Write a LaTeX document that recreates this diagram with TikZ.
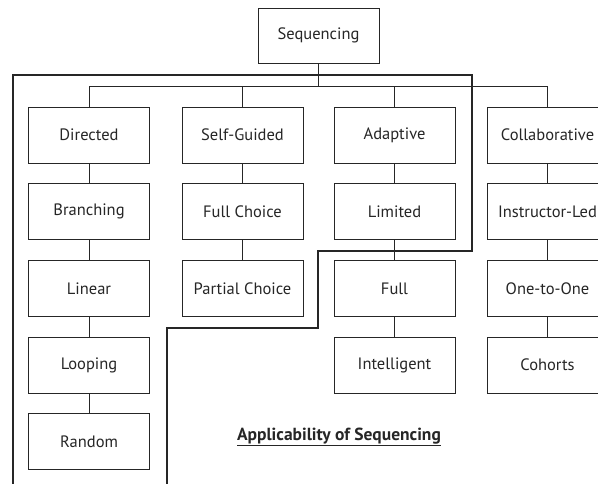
\documentclass[tikz,border=0pt]{standalone}
\usepackage{fontspec}
\setmainfont{PT Sans}
\begin{document}
\begin{tikzpicture}[x=1pt,y=-1pt,
  box/.style={draw=black!85,line width=1pt,minimum width=121pt,minimum height=56pt,inner sep=0pt,font=\fontsize{16.5}{18}\selectfont,text=black!85},
  link/.style={draw=black!85,line width=1pt},
  frame/.style={draw=black!85,line width=2.6pt}]
\clip (0,0) rectangle (598,483);
\fill[white] (0,0) rectangle (598,483);
\node[box,minimum height=55pt] (seq) at (318.5,35.5) {Sequencing};
% columns
\foreach \n/\t/\x/\y in {
  d1/Directed/89/135, d2/Branching/89/211.5, d3/Linear/89/288.5, d4/Looping/89/365, d5/Random/89/441.5,
  s1/Self-Guided/242.5/135, s2/Full Choice/242.5/211.5, s3/Partial Choice/242.5/288.5,
  a1/Adaptive/394.5/135, a2/Limited/394.5/211.5, a3/Full/394.5/288.5, a4/Intelligent/394.5/365,
  c1/Collaborative/547.5/135, c2/Instructor-Led/547.5/211.5, c3/One-to-One/547.5/288.5, c4/Cohorts/547.5/365}
  {\node[box] (\n) at (\x,\y) {\t};}
\coordinate (bus) at (0,86);
\draw[link] (seq.south) -- (seq.south |- bus);
\draw[link] (d1.north) -- (d1.north |- bus) -- (c1.north |- bus) -- (c1.north);
\draw[link] (s1.north) -- (s1.north |- bus);
\draw[link] (a1.north) -- (a1.north |- bus);
\draw[link] (d1) -- (d2) (d2) -- (d3) (d3) -- (d4) (d4) -- (d5);
\draw[link] (s1) -- (s2) (s2) -- (s3);
\draw[link] (a1) -- (a2) (a2) -- (a3) (a3) -- (a4);
\draw[link] (c1) -- (c2) (c2) -- (c3) (c3) -- (c4);
% applicability frame
\draw[frame,line join=miter] (13,490) -- (13,75) -- (472,75) -- (472,251) -- (318,251) -- (318,328) -- (167,328) -- (167,490);
\node[font=\fontsize{17.5}{19}\selectfont\bfseries,text=black!85] (lbl) at (339,437) {\underline{Applicability of Sequencing}};
\end{tikzpicture}
\end{document}
